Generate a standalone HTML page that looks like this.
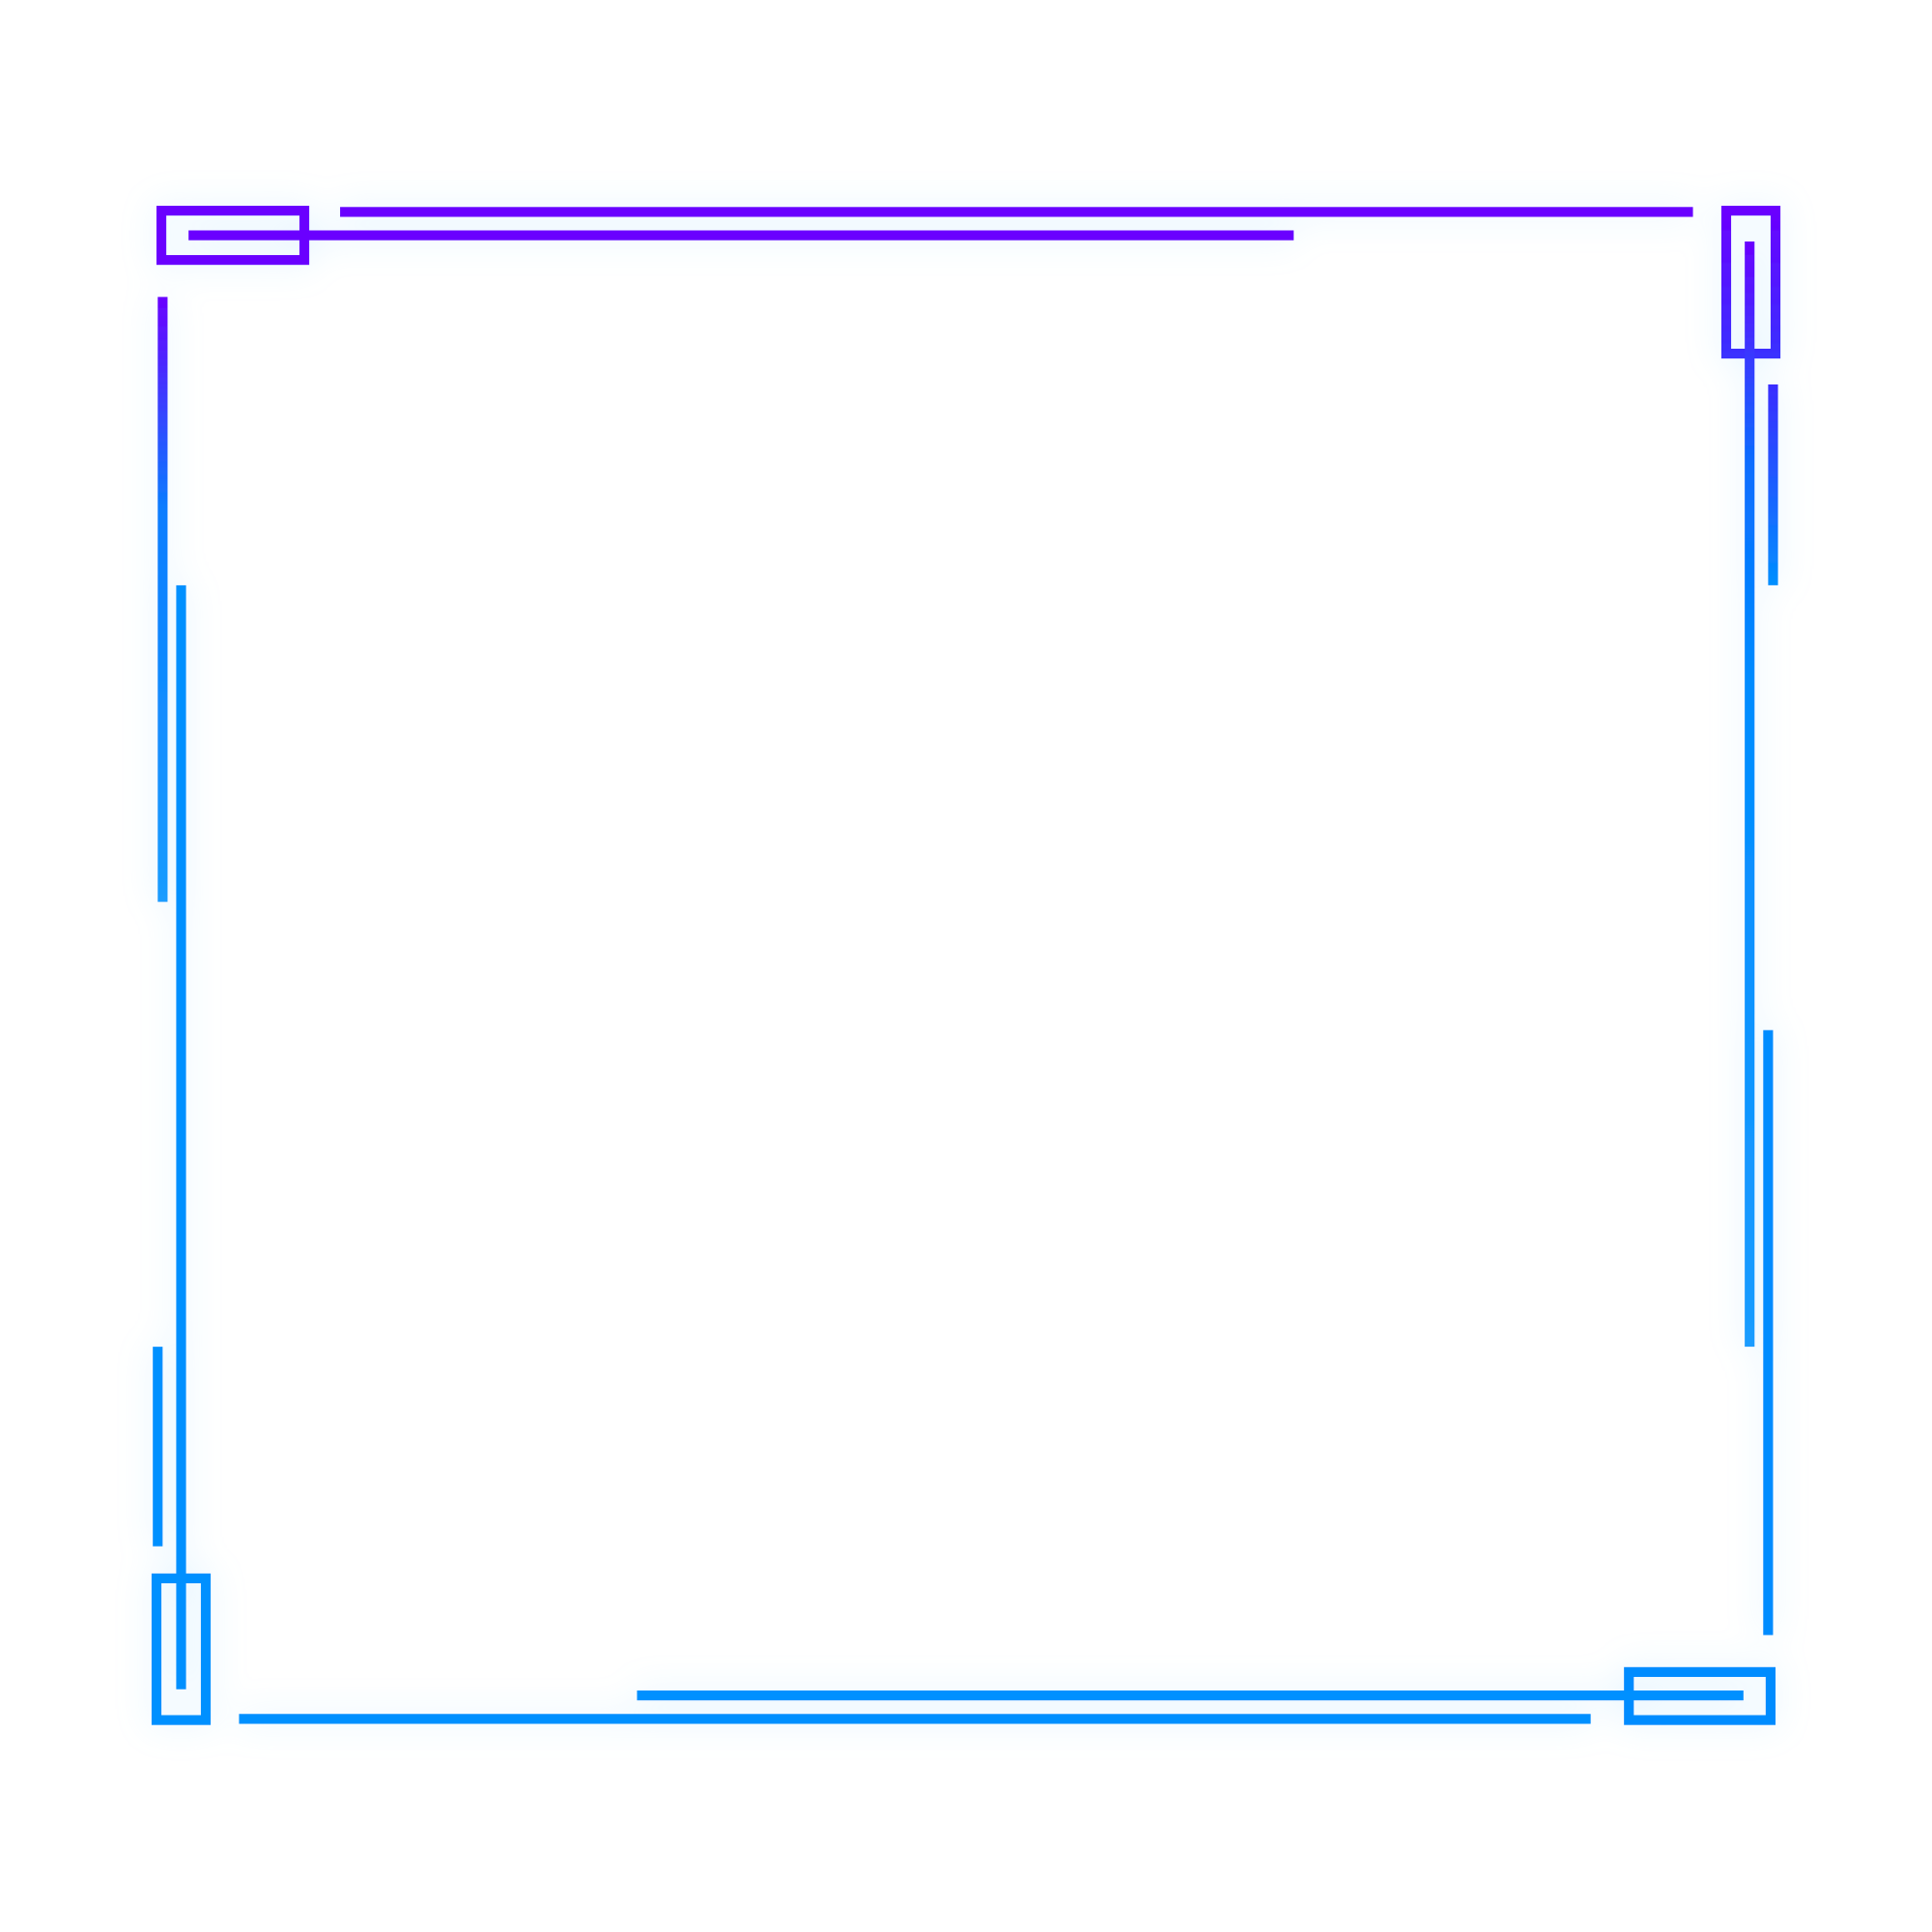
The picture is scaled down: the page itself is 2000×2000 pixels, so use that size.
<!DOCTYPE html>
<html><head><meta charset="utf-8"><style>
html,body{margin:0;padding:0;background:#fff;width:2000px;height:2000px;overflow:hidden}
svg{display:block}
</style></head><body>
<svg width="2000" height="2000" viewBox="0 0 1568 1568" xmlns="http://www.w3.org/2000/svg">
<defs>
<filter id="glow" x="-20%" y="-20%" width="140%" height="140%">
<feGaussianBlur in="SourceAlpha" stdDeviation="14" result="b"/>
<feFlood flood-color="#bfe6ff" flood-opacity="0.5"/>
<feComposite in2="b" operator="in" result="g"/>
<feMerge><feMergeNode in="g"/><feMergeNode in="SourceGraphic"/></feMerge>
</filter>
<linearGradient id="gL" x1="0" y1="241" x2="0" y2="732" gradientUnits="userSpaceOnUse"><stop offset="0" stop-color="#6a00ff"/><stop offset="0.35" stop-color="#0a7dff"/><stop offset="1" stop-color="#1a9cff"/></linearGradient>
<linearGradient id="gR" x1="0" y1="196" x2="0" y2="1093" gradientUnits="userSpaceOnUse"><stop offset="0" stop-color="#6a00ff"/><stop offset="0.2" stop-color="#0a6dff"/><stop offset="0.4" stop-color="#008cff"/><stop offset="1" stop-color="#1a9cff"/></linearGradient>
<linearGradient id="gRs" x1="0" y1="312" x2="0" y2="475" gradientUnits="userSpaceOnUse"><stop offset="0" stop-color="#3a2cff"/><stop offset="1" stop-color="#0090ff"/></linearGradient>
<linearGradient id="gTR" x1="0" y1="171" x2="0" y2="287" gradientUnits="userSpaceOnUse"><stop offset="0" stop-color="#6a00ff"/><stop offset="1" stop-color="#3a30ff"/></linearGradient>
</defs>
<g filter="url(#glow)" fill="none" stroke-width="8">
<rect x="131" y="171" width="116" height="40" stroke="#6a00ff"/>
<line x1="276" y1="172" x2="1374" y2="172" stroke="#6a00ff"/>
<line x1="153" y1="191" x2="1050" y2="191" stroke="#6a00ff"/>
<rect x="1401" y="171" width="40" height="116" stroke="url(#gTR)"/>
<line x1="1420" y1="196" x2="1420" y2="1093" stroke="url(#gR)"/>
<line x1="1439" y1="312" x2="1439" y2="475" stroke="url(#gRs)"/>
<line x1="1435" y1="836" x2="1435" y2="1327" stroke="#008cff"/>
<rect x="1322" y="1357" width="115" height="39" stroke="#008cff"/>
<line x1="517" y1="1376" x2="1415" y2="1376" stroke="#0090ff"/>
<line x1="194" y1="1395" x2="1291" y2="1395" stroke="#0090ff"/>
<rect x="127" y="1281" width="40" height="115" stroke="#0090ff"/>
<line x1="147" y1="475" x2="147" y2="1371" stroke="#0090ff"/>
<line x1="128" y1="1093" x2="128" y2="1255" stroke="#0090ff"/>
<line x1="132" y1="241" x2="132" y2="732" stroke="url(#gL)"/>
</g>
</svg>
</body></html>
